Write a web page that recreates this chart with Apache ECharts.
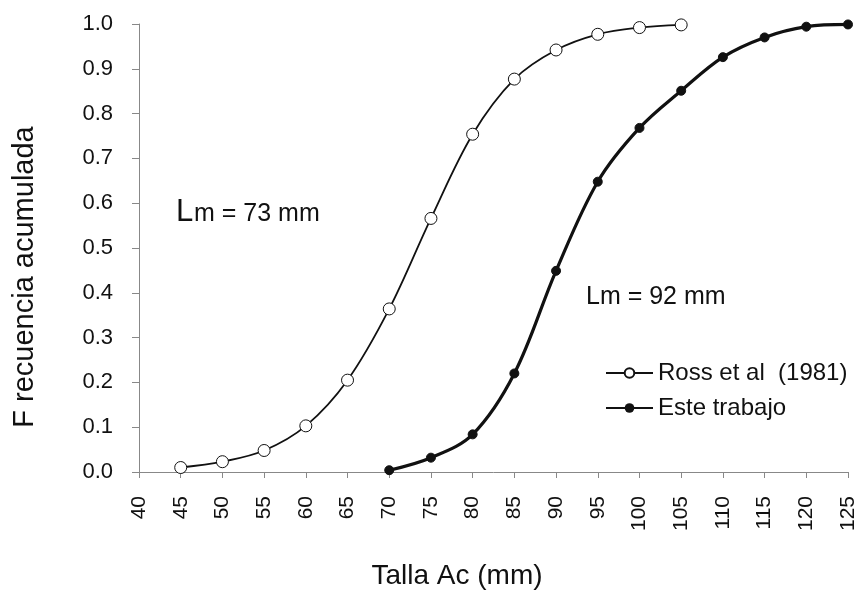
<!DOCTYPE html>
<html><head><meta charset="utf-8">
<script src="https://cdn.jsdelivr.net/npm/echarts@6/dist/echarts.min.js"></script>
<style>html,body{margin:0;padding:0;background:#fff}#c{width:863px;height:592px}</style>
</head><body><div id="c"></div>
<script>
const rossX = [45, 50, 55, 60, 65, 70, 75, 80, 85, 90, 95, 100, 105];
const rossY = [0.010, 0.023, 0.048, 0.103, 0.205, 0.364, 0.566, 0.754, 0.877, 0.942, 0.977, 0.992, 0.998];
const esteX = [70, 75, 80, 85, 90, 95, 100, 105, 110, 115, 120, 125];
const esteY = [0.004, 0.032, 0.084, 0.220, 0.449, 0.648, 0.768, 0.851, 0.926, 0.970, 0.994, 0.999];
const xTickMin = 40, xTickMax = 125, xTickStep = 5;
const yTickMin = 0, yTickMax = 1, yTickStep = 0.1;

const font = 'Liberation Sans, Arial, sans-serif';
const chart = echarts.init(document.getElementById('c'));
chart.setOption({
  animation: false,
  backgroundColor: '#fff',
  grid: {left: 139, right: 15, top: 24, bottom: 120},
  xAxis: {
    type: 'value', min: xTickMin, max: xTickMax, interval: xTickStep,
    axisLine: {lineStyle: {color: '#888', width: 1}},
    axisTick: {show: true, length: 6, lineStyle: {color: '#888'}},
    splitLine: {show: false},
    axisLabel: {rotate: 90, fontFamily: font, fontSize: 21, color: '#111', margin: 24}
  },
  yAxis: {
    type: 'value', min: yTickMin, max: yTickMax, interval: yTickStep,
    axisLine: {show: true, lineStyle: {color: '#888', width: 1}},
    axisTick: {show: true, length: 7, lineStyle: {color: '#888'}},
    splitLine: {show: false},
    axisLabel: {fontFamily: font, fontSize: 22, color: '#111', margin: 26,
      formatter: v => v.toFixed(1)}
  },
  legend: {
    orient: 'vertical', left: 600, top: 356, itemGap: 11,
    itemWidth: 47, itemHeight: 12,
    textStyle: {fontFamily: font, fontSize: 24, color: '#111'},
    data: ['Ross et al  (1981)', 'Este trabajo']
  },
  graphic: [
    {type: 'text', x: 25, y: 277, rotation: Math.PI / 2,
      style: {text: 'F recuencia acumulada', font: '29px ' + font, fill: '#111', align: 'center', verticalAlign: 'middle'}},
    {type: 'text', x: 457, y: 576,
      style: {text: 'Talla Ac (mm)', font: '28px ' + font, fill: '#111', align: 'center', verticalAlign: 'middle'}},
    {type: 'text', left: 176, top: 197, style: {text: 'L', font: '31px ' + font, fill: '#111'}},
    {type: 'text', left: 194, top: 202, style: {text: 'm = 73 mm', font: '25px ' + font, fill: '#111'}},
    {type: 'text', left: 586, top: 285, style: {text: 'Lm = 92 mm', font: '25px ' + font, fill: '#111'}}
  ],
  series: [
    {
      name: 'Ross et al  (1981)', type: 'line', smooth: 0.35,
      data: rossX.map((x, i) => [x, rossY[i]]),
      symbol: 'circle', symbolSize: 12,
      itemStyle: {color: '#fff', borderColor: '#111', borderWidth: 1},
      lineStyle: {color: '#111', width: 1.8}
    },
    {
      name: 'Este trabajo', type: 'line', smooth: 0.35,
      data: esteX.map((x, i) => [x, esteY[i]]),
      symbol: 'circle', symbolSize: 9,
      itemStyle: {color: '#111', borderColor: '#111'},
      lineStyle: {color: '#111', width: 3.2}
    }
  ]
});
</script></body></html>
